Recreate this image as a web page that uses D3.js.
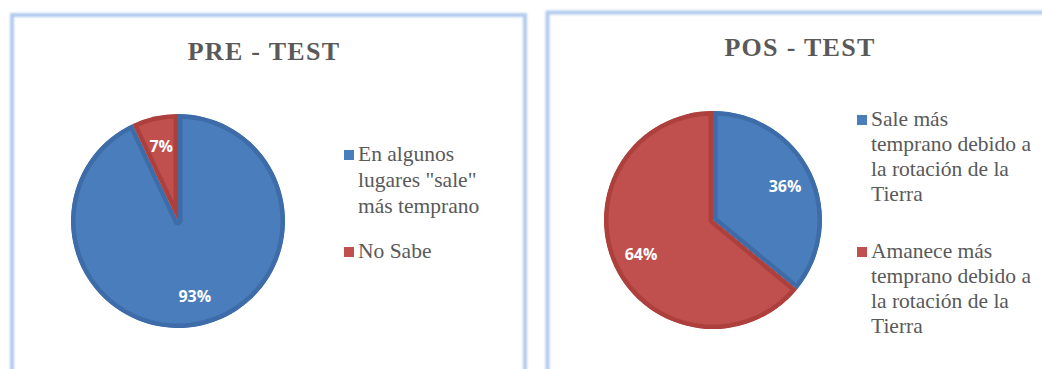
<!DOCTYPE html>
<html>
<head>
<meta charset="utf-8">
<script src="https://cdn.jsdelivr.net/npm/d3@7"></script>
<style>
  html, body { margin: 0; padding: 0; background: #fff; }
  svg { display: block; }
</style>
</head>
<body>
<svg id="chart" width="1042" height="369"></svg>
<script>
// Survey answers: share of students per answer, before and after the lesson
const preTitle = "PRE - TEST";
const preCategories = ["En algunos lugares \"sale\" más temprano", "No Sabe"];
const preValues = [93, 7];
const preLegendLines = [["En algunos", "lugares \"sale\"", "más temprano"], ["No Sabe"]];

const posTitle = "POS - TEST";
const posCategories = ["Sale más temprano debido a la rotación de la Tierra", "Amanece más temprano debido a la rotación de la Tierra"];
const posValues = [36, 64];
const posLegendLines = [
  ["Sale más", "temprano debido a", "la rotación de la", "Tierra"],
  ["Amanece más", "temprano debido a", "la rotación de la", "Tierra"]
];

const fills = ["#4a7dbb", "#c0504d"];
const edges = ["#3d6ca9", "#ad403d"];

const svg = d3.select("#chart");
const defs = svg.append("defs");

const blur = defs.append("filter").attr("id", "soft")
  .attr("x", "-5%").attr("y", "-5%").attr("width", "110%").attr("height", "110%");
blur.append("feGaussianBlur").attr("stdDeviation", 0.8);

function panel(cfg) {
  const g = svg.append("g");

  // frame
  g.append("rect")
    .attr("x", cfg.frame[0]).attr("y", cfg.frame[1])
    .attr("width", cfg.frame[2]).attr("height", cfg.frame[3])
    .attr("fill", "none")
    .attr("stroke", "#b2cbee")
    .attr("stroke-width", 4)
    .attr("filter", "url(#soft)");

  // title
  g.append("text")
    .attr("x", cfg.titleX).attr("y", cfg.titleY)
    .attr("text-anchor", "middle")
    .attr("font-family", "'Liberation Serif', 'Times New Roman', serif")
    .attr("font-weight", "bold")
    .attr("font-size", 26)
    .attr("letter-spacing", 1.3)
    .attr("fill", "#595959")
    .text(cfg.title);

  const pie = d3.pie().sort(null).value(d => d.value);
  const data = pie(cfg.categories.map((c, i) => ({ name: c, value: cfg.values[i], i })));
  const arc = d3.arc().innerRadius(0).outerRadius(cfg.r);
  const labelArc = d3.arc().innerRadius(cfg.r * cfg.labelK).outerRadius(cfg.r * cfg.labelK);

  const pg = g.append("g").attr("transform", `translate(${cfg.cx},${cfg.cy})`);

  data.forEach((d, k) => {
    const id = `${cfg.id}-clip-${k}`;
    defs.append("clipPath").attr("id", id)
      .append("path").attr("d", arc(d)).attr("transform", `translate(${cfg.cx},${cfg.cy})`);
    // slice body, with a darker inner rim along its edges
    const sg = g.append("g").attr("clip-path", `url(#${id})`);
    sg.append("path")
      .attr("transform", `translate(${cfg.cx},${cfg.cy})`)
      .attr("d", arc(d))
      .attr("fill", fills[d.data.i])
      .attr("stroke", edges[d.data.i])
      .attr("stroke-width", 9)
      .attr("stroke-linejoin", "round");
  });

  pg.raise();
  pg.selectAll("text.val")
    .data(data)
    .join("text")
    .attr("class", "val")
    .attr("transform", d => `translate(${labelArc.centroid(d)})`)
    .attr("text-anchor", "middle")
    .attr("dy", "0.36em")
    .attr("font-family", "'Open Sans', 'Noto Sans', sans-serif")
    .attr("font-weight", "bold")
    .attr("font-size", 16)
    .attr("fill", "#ffffff")
    .text(d => d.data.value + "%");

  // legend
  const lg = g.append("g");
  let y = cfg.legendY;
  cfg.legend.forEach((lines, i) => {
    lg.append("rect")
      .attr("x", cfg.legendX).attr("y", y - 11)
      .attr("width", 10).attr("height", 10)
      .attr("fill", fills[i]);
    const t = lg.append("text")
      .attr("font-family", "'Liberation Serif', 'Times New Roman', serif")
      .attr("font-size", 21.5)
      .attr("fill", "#595959");
    lines.forEach((ln, j) => {
      t.append("tspan")
        .attr("x", cfg.legendX + 14)
        .attr("y", y + j * cfg.lineH)
        .text(ln);
    });
    y += lines.length * cfg.lineH + cfg.gap;
  });
}

panel({
  id: "pre", title: preTitle, categories: preCategories, values: preValues, legend: preLegendLines,
  frame: [12, 15, 513, 420], titleX: 264, titleY: 60,
  cx: 178, cy: 221, r: 107, labelK: 0.72,
  legendX: 344, legendY: 161, lineH: 26, gap: 19
});

panel({
  id: "pos", title: posTitle, categories: posCategories, values: posValues, legend: posLegendLines,
  frame: [547.5, 12.5, 600, 420], titleX: 800, titleY: 56,
  cx: 713, cy: 220, r: 109, labelK: 0.73,
  legendX: 857, legendY: 126, lineH: 25, gap: 32
});
</script>
</body>
</html>
